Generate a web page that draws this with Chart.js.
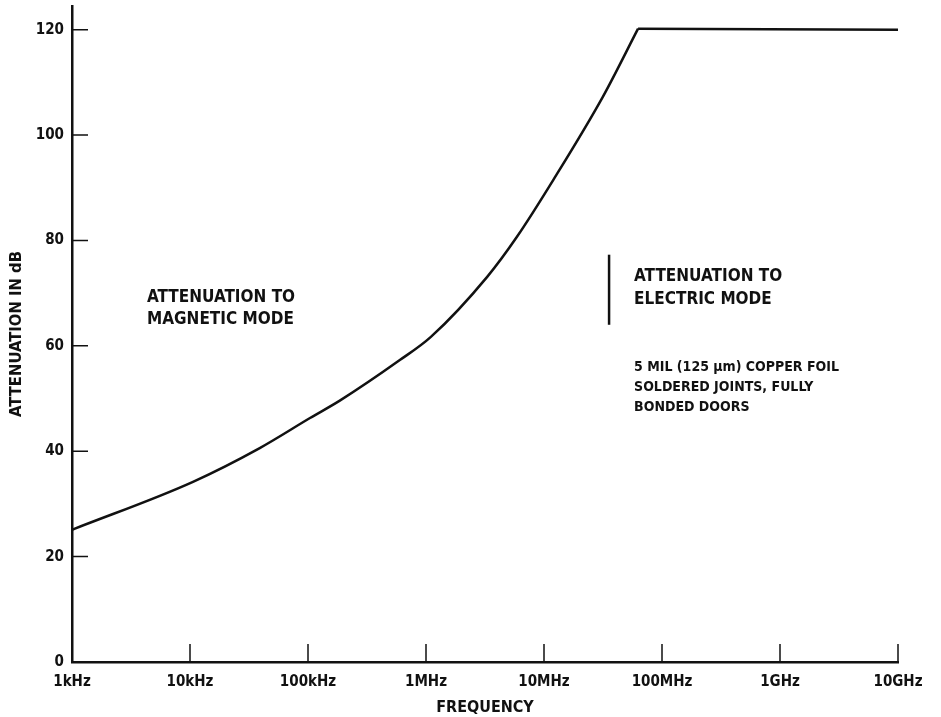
<!DOCTYPE html>
<html>
<head>
<meta charset="utf-8">
<script src="https://cdn.jsdelivr.net/npm/chart.js@4.4.1/dist/chart.umd.min.js"></script>
<style>
  html, body { margin: 0; padding: 0; background: #fff; }
  #wrap { width: 941px; height: 717px; }
</style>
</head>
<body>
<div id="wrap"><canvas id="attenChart" width="941" height="717"></canvas></div>
<script>
// Curve: frequency in Hz, attenuation in dB
const freqs = [1e3, 1.06e4, 3.9e4, 1.04e5, 1.86e5, 6e5, 1.1e6, 3.3e6, 5.9e6, 1.2e7, 3.16e7, 6.27e7, 1e10];
const attenuation = [25.1, 34.2, 40.6, 46.3, 49.6, 57.3, 61.7, 73.1, 80.7, 91.5, 107.3, 120.2, 120];
// the curve breaks into the flat 120 dB plateau at this point
const cornerIndex = 11;

// Axis ticks
const xTickValues = [1e3, 1e4, 1e5, 1e6, 1e7, 1e8, 1e9, 1e10];
const xTickLabels = ['1kHz', '10kHz', '100kHz', '1MHz', '10MHz', '100MHz', '1GHz', '10GHz'];
const yTickValues = [0, 20, 40, 60, 80, 100, 120];

// Text notes inside the plot
const magneticNote = ['ATTENUATION TO', 'MAGNETIC MODE'];
const electricNote = ['ATTENUATION TO', 'ELECTRIC MODE'];
const foilNote = ['5 MIL (125 \u03BCm) COPPER FOIL', 'SOLDERED JOINTS, FULLY', 'BONDED DOORS'];

const FONT = '"DejaVu Sans Condensed", "Liberation Sans Narrow", sans-serif';
const INK = '#111';

// where the notes sit, in data units (Hz, dB)
const noteLayout = [
    { lines: magneticNote, f: 4.32e3, db: [69.1, 64.9], size: 17 },
    { lines: electricNote, f: 5.8e7, db: [73.1, 68.7], size: 17 },
    { lines: foilNote, f: 5.8e7, db: [56.0, 52.2, 48.4], size: 14 }
];
const markerBar = { f: 3.56e7, from: 64.0, to: 77.3 };

const points = freqs.map((f, i) => ({ x: f, y: attenuation[i] }));

const innerTicks = {
    id: 'innerTicks',
    afterDraw(chart) {
        const { ctx, chartArea, scales: { x, y } } = chart;
        ctx.save();
        ctx.strokeStyle = INK;
        ctx.lineWidth = 1.5;
        ctx.beginPath();
        y.ticks.forEach(t => {
            if (t.value === 0) return;
            const py = y.getPixelForValue(t.value);
            ctx.moveTo(chartArea.left, py);
            ctx.lineTo(chartArea.left + 16, py);
        });
        x.ticks.forEach(t => {
            if (t.value === xTickValues[0]) return;
            const px = x.getPixelForValue(t.value);
            ctx.moveTo(px, chartArea.bottom);
            ctx.lineTo(px, chartArea.bottom - 18);
        });
        ctx.stroke();
        ctx.restore();
    }
};

const notes = {
    id: 'notes',
    afterDatasetsDraw(chart) {
        const { ctx, scales: { x, y } } = chart;
        ctx.save();
        ctx.fillStyle = INK;
        ctx.textAlign = 'left';
        ctx.textBaseline = 'middle';
        noteLayout.forEach(n => {
            ctx.font = 'bold ' + n.size + 'px ' + FONT;
            n.lines.forEach((line, i) => {
                ctx.fillText(line, x.getPixelForValue(n.f), y.getPixelForValue(n.db[i]));
            });
        });
        // short vertical marker beside the electric mode note
        ctx.strokeStyle = INK;
        ctx.lineWidth = 2.5;
        ctx.beginPath();
        const bx = x.getPixelForValue(markerBar.f);
        ctx.moveTo(bx, y.getPixelForValue(markerBar.from));
        ctx.lineTo(bx, y.getPixelForValue(markerBar.to));
        ctx.stroke();
        ctx.restore();
    }
};

const lineStyle = {
    borderColor: INK,
    borderWidth: 2.5,
    pointRadius: 0,
    fill: false
};

new Chart(document.getElementById('attenChart'), {
    type: 'line',
    data: {
        datasets: [
            { ...lineStyle, data: points.slice(0, cornerIndex + 1), cubicInterpolationMode: 'monotone' },
            { ...lineStyle, data: points.slice(cornerIndex), tension: 0 }
        ]
    },
    options: {
        responsive: false,
        animation: false,
        devicePixelRatio: 1,
        layout: { padding: { top: 6, right: 43, left: 0, bottom: 0 } },
        plugins: {
            legend: { display: false },
            tooltip: { enabled: false }
        },
        scales: {
            x: {
                type: 'logarithmic',
                min: 1e3,
                max: 1e10,
                grid: { display: false, drawTicks: false },
                border: { display: true, color: INK, width: 2.5 },
                afterBuildTicks: scale => {
                    scale.ticks = xTickValues.map(v => ({ value: v }));
                },
                afterFit: scale => {
                    scale.height = 55;
                    scale.paddingLeft = 0;
                    scale.paddingRight = 0;
                },
                ticks: {
                    autoSkip: false,
                    maxRotation: 0,
                    padding: 11,
                    color: INK,
                    font: { family: FONT, size: 15, weight: 'bold' },
                    callback: (v, i) => xTickLabels[i]
                },
                title: {
                    display: true,
                    text: 'FREQUENCY',
                    color: INK,
                    padding: { top: 0, bottom: 0 },
                    font: { family: FONT, size: 16, weight: 'bold' }
                }
            },
            y: {
                min: 0,
                max: 124.5,
                grid: { display: false, drawTicks: false },
                border: { display: true, color: INK, width: 2.5 },
                afterBuildTicks: scale => {
                    scale.ticks = yTickValues.map(v => ({ value: v }));
                },
                afterFit: scale => {
                    scale.width = 72;
                    scale.paddingTop = 0;
                    scale.paddingBottom = 0;
                },
                ticks: {
                    padding: 8,
                    color: INK,
                    font: { family: FONT, size: 15, weight: 'bold' }
                },
                title: {
                    display: true,
                    text: 'ATTENUATION IN dB',
                    color: INK,
                    padding: { top: 7, bottom: 0 },
                    font: { family: FONT, size: 16.5, weight: 'bold' }
                }
            }
        }
    },
    plugins: [innerTicks, notes]
});
</script>
</body>
</html>
